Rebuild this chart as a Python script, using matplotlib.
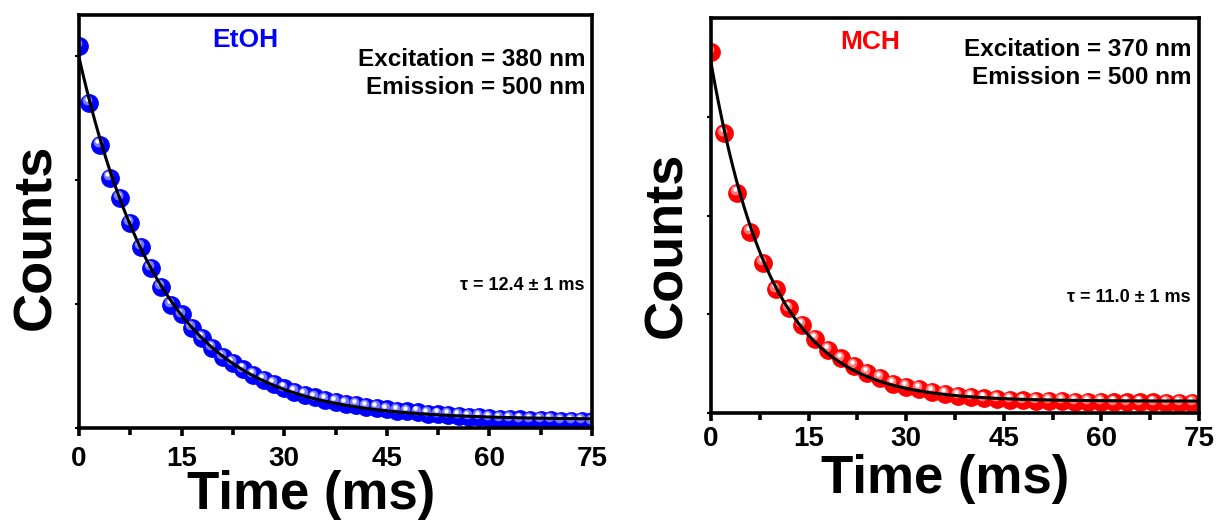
import numpy as np
import matplotlib
matplotlib.use('Agg')
import matplotlib.pyplot as plt
from matplotlib.transforms import ScaledTranslation

plt.rcParams['font.family'] = ['Liberation Sans', 'DejaVu Sans']
plt.rcParams['font.weight'] = 'bold'

# EtOH decay, 1.5 ms steps (normalised counts)
t_etoh = np.arange(0, 75.1, 1.5)
c_etoh = [0.925, 0.788, 0.685, 0.606, 0.557, 0.496, 0.439, 0.388, 0.342, 0.298,
          0.275, 0.243, 0.219, 0.194, 0.173, 0.158, 0.142, 0.128, 0.116, 0.106,
          0.096, 0.088, 0.080, 0.074, 0.069, 0.064, 0.059, 0.056, 0.052, 0.048,
          0.045, 0.042, 0.040, 0.038, 0.035, 0.033, 0.031, 0.029, 0.027, 0.026,
          0.025, 0.023, 0.022, 0.021, 0.020, 0.019, 0.019, 0.018, 0.017, 0.017,
          0.016]

# MCH decay, 2 ms steps
t_mch = np.arange(0, 75, 2.0)
c_mch = [0.915, 0.708, 0.558, 0.459, 0.381, 0.313, 0.265, 0.223, 0.187, 0.159,
         0.138, 0.119, 0.102, 0.089, 0.073, 0.067, 0.061, 0.054, 0.048, 0.044,
         0.040, 0.037, 0.035, 0.034, 0.032, 0.031, 0.030, 0.030, 0.029, 0.028,
         0.028, 0.027, 0.027, 0.027, 0.027, 0.026, 0.026, 0.026]

x_ticks = [0, 15, 30, 45, 60, 75]


def fit_decay(t, c):
    # mono-exponential fit y = A exp(-t/tau) + y0, tau by grid search
    t = np.asarray(t)
    c = np.asarray(c)
    best = None
    for tau in np.linspace(5, 20, 301):
        M = np.column_stack([np.exp(-t / tau), np.ones_like(t)])
        coef, res, _, _ = np.linalg.lstsq(M, c, rcond=None)
        err = np.sum((M @ coef - c) ** 2)
        if best is None or err < best[0]:
            best = (err, tau, coef)
    _, tau, (a, y0) = best
    tt = np.linspace(0, 75, 400)
    return tt, a * np.exp(-tt / tau) + y0


def balls(ax, x, y, color, light):
    fig = ax.figure
    ax.plot(x, y, 'o', ms=12.5, color=color, mec=color, ls='none', zorder=3)
    off1 = ax.transData + ScaledTranslation(-1.4 / 72, 2.0 / 72, fig.dpi_scale_trans)
    ax.plot(x, y, 'o', ms=7, color=light, mec='none', ls='none', zorder=4, transform=off1, alpha=0.8)
    off2 = ax.transData + ScaledTranslation(-1.8 / 72, 2.8 / 72, fig.dpi_scale_trans)
    ax.plot(x, y, 'o', ms=3.2, color='white', mec='none', ls='none', zorder=5, transform=off2)


def style(ax, yticks, pad):
    ax.set_xlim(0, 75)
    ax.set_ylim(0, 1)
    ax.set_xticks(x_ticks)
    ax.set_xticks(np.arange(7.5, 75, 15), minor=True)
    ax.set_yticks(yticks)
    ax.set_yticklabels([])
    for s in ax.spines.values():
        s.set_linewidth(2.6)
        s.set_zorder(8)
    ax.tick_params(axis='x', which='major', direction='out', length=6, width=2.6,
                   labelsize=20, pad=pad)
    ax.tick_params(axis='x', which='minor', direction='out', length=5, width=2.6)
    ax.tick_params(axis='y', direction='out', length=3, width=1.5)
    for lab in ax.get_xticklabels():
        lab.set_fontweight('bold')


fig = plt.figure(figsize=(12.24, 5.21), dpi=100)
ax1 = fig.add_axes([79 / 1224, 93 / 521, 513 / 1224, 413 / 521])
ax2 = fig.add_axes([711 / 1224, 108 / 521, 488 / 1224, 395 / 521])

blue = (0, 0, 1)
red = (1, 0, 0)

balls(ax1, t_etoh, c_etoh, blue, (0.6, 0.6, 1.0))
tt, ff = fit_decay(t_etoh, c_etoh)
ax1.plot(tt, ff, color='black', lw=2.2, zorder=6)
style(ax1, [0, 0.3, 0.6, 0.9], 7)

balls(ax2, t_mch, c_mch, red, (1.0, 0.6, 0.6))
tt, ff = fit_decay(t_mch, c_mch)
ax2.plot(tt, ff, color='black', lw=2.2, zorder=6)
style(ax2, [0, 0.25, 0.5, 0.75], 3)


def px(x, y):
    return x / 1224, 1 - y / 521


fig.text(*px(245, 40), 'EtOH', color=blue, fontsize=19, ha='center', va='center', weight='bold')
fig.text(*px(585, 60), 'Excitation = 380 nm', fontsize=17.5, ha='right', va='center', weight='bold')
fig.text(*px(585, 88), 'Emission = 500 nm', fontsize=17.5, ha='right', va='center', weight='bold')
fig.text(*px(585, 285), '\u03c4 = 12.4 \u00b1 1 ms', fontsize=13, ha='right', va='center', weight='bold')
fig.text(*px(36, 237), 'Counts', fontsize=39, rotation=90, ha='center', va='center', weight='bold')
fig.text(*px(311, 509), 'Time (ms)', fontsize=38, ha='center', va='baseline', weight='bold')

fig.text(*px(870, 42), 'MCH', color=red, fontsize=19, ha='center', va='center', weight='bold')
fig.text(*px(1191, 49), 'Excitation = 370 nm', fontsize=17.5, ha='right', va='center', weight='bold')
fig.text(*px(1191, 78), 'Emission = 500 nm', fontsize=17.5, ha='right', va='center', weight='bold')
fig.text(*px(1191, 297), '\u03c4 = 11.0 \u00b1 1 ms', fontsize=13, ha='right', va='center', weight='bold')
fig.text(*px(667, 245), 'Counts', fontsize=39, rotation=90, ha='center', va='center', weight='bold')
fig.text(*px(945, 493), 'Time (ms)', fontsize=38, ha='center', va='baseline', weight='bold')

fig.savefig('out.png', dpi=100)
